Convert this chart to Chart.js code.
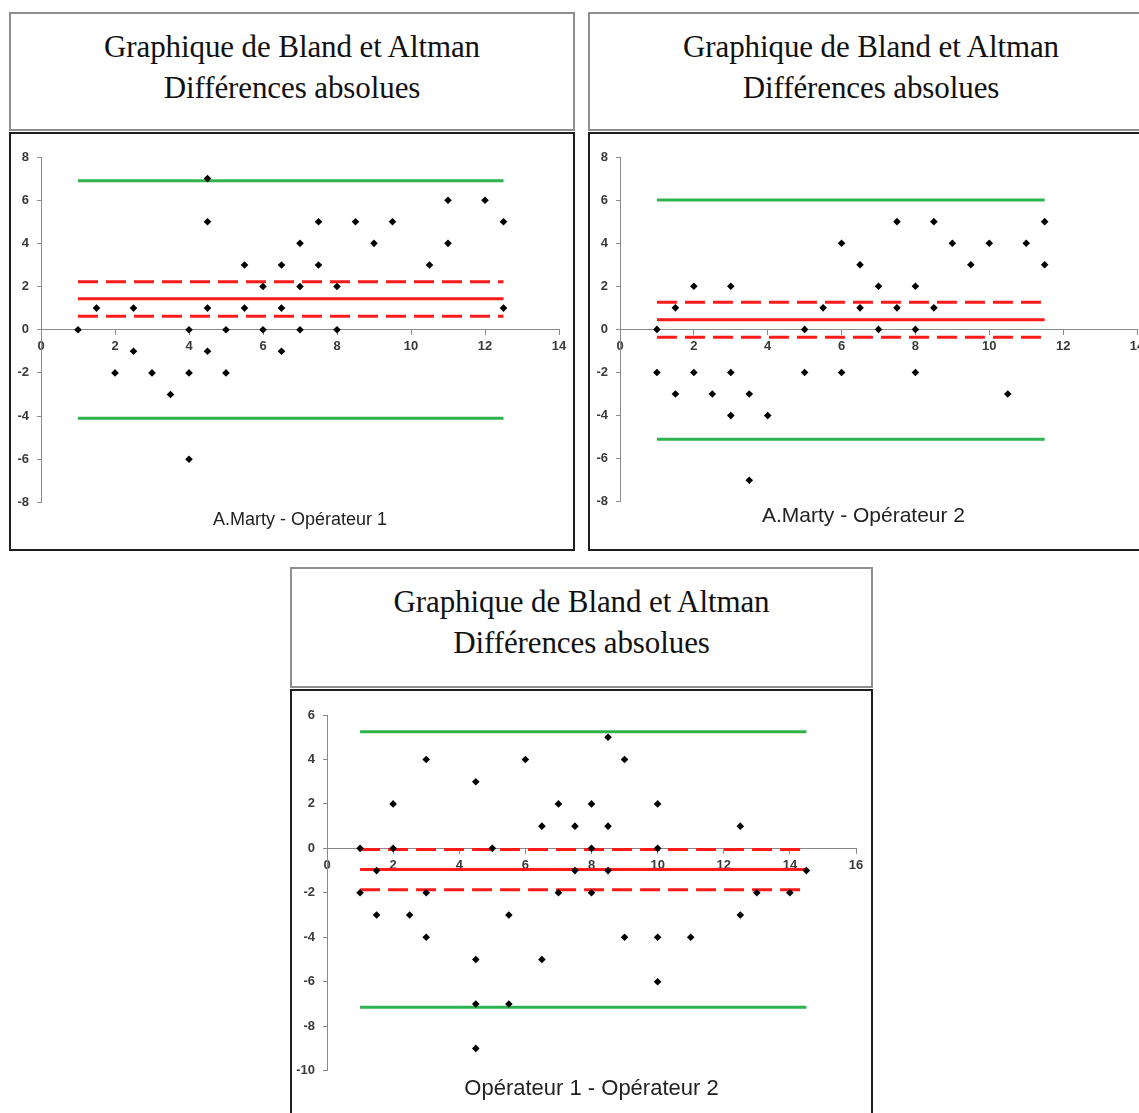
<!DOCTYPE html>
<html>
<head>
<meta charset="utf-8">
<script src="https://cdn.jsdelivr.net/npm/chart.js@4.4.1/dist/chart.umd.min.js"></script>
<style>
  html, body { margin:0; padding:0; background:#fff; overflow:hidden; width:1139px; height:1113px; }
  .tbox { position:absolute; box-sizing:border-box; border:2px solid #8e8e8e; background:#fff;
          text-align:center; font-family:"Liberation Serif", serif; font-size:31px; line-height:41px;
          color:#111; padding-top:12px; letter-spacing:-0.1px; }
  .cbox { position:absolute; box-sizing:border-box; border:2px solid #1e1e1e; background:#fff; overflow:hidden; }
  .cbox canvas { position:absolute; left:0; top:0; }
</style>
</head>
<body>
<div class="tbox" style="left:9px;top:12px;width:566px;height:119px;">Graphique de Bland et Altman<br>Différences absolues</div>
<div class="cbox" style="left:9px;top:132px;width:566px;height:419px;"><canvas id="c1" width="562" height="415"></canvas></div>

<div class="tbox" style="left:588px;top:12px;width:566px;height:119px;">Graphique de Bland et Altman<br>Différences absolues</div>
<div class="cbox" style="left:588px;top:132px;width:566px;height:419px;"><canvas id="c2" width="562" height="415"></canvas></div>

<div class="tbox" style="left:290px;top:567px;width:583px;height:121px;">Graphique de Bland et Altman<br>Différences absolues</div>
<div class="cbox" style="left:290px;top:689px;width:583px;height:440px;"><canvas id="c3" width="579" height="430"></canvas></div>

<script>
// ---- Chart 1 : A.Marty - Opérateur 1 ----
const op1X = [1,1.5,2,2.5,2.5,3,3.5,4,4,4,4.5,4.5,4.5,4.5,5,5,5.5,5.5,6,6,6.5,6.5,6.5,7,7,7,7.5,7.5,8,8,8.5,9,9.5,10.5,11,11,12,12.5,12.5];
const op1Y = [0,1,-2,1,-1,-2,-3,0,-2,-6,7,5,1,-1,0,-2,3,1,2,0,3,1,-1,4,2,0,5,3,2,0,5,4,5,3,6,4,6,5,1];
const op1Lines = [6.9, 2.22, 1.43, 0.62, -4.1];   // upper LoA, CI high, mean, CI low, lower LoA
const op1Span = [1, 12.5];

// ---- Chart 2 : A.Marty - Opérateur 2 ----
const op2X = [1,1,1.5,1.5,2,2,2.5,3,3,3,3.5,3.5,4,5,5,5.5,6,6,6.5,6.5,7,7,7.5,7.5,8,8,8,8.5,8.5,9,9.5,10,10.5,11,11.5,11.5];
const op2Y = [0,-2,1,-3,2,-2,-3,2,-2,-4,-3,-7,-4,0,-2,1,4,-2,3,1,2,0,5,1,2,0,-2,5,1,4,3,4,-3,4,5,3];
const op2Lines = [6.0, 1.26, 0.45, -0.36, -5.1];
const op2Span = [1, 11.5];

// ---- Chart 3 : Opérateur 1 - Opérateur 2 ----
const op12X = [1,1,1.5,1.5,2,2,2.5,3,3,3,4.5,4.5,4.5,4.5,5,5.5,5.5,6,6.5,6.5,7,7,7.5,7.5,8,8,8,8.5,8.5,8.5,9,9,10,10,10,10,11,12.5,12.5,13,14,14.5];
const op12Y = [0,-2,-1,-3,2,0,-3,4,-2,-4,3,-5,-7,-9,0,-3,-7,4,1,-5,2,-2,1,-1,2,0,-2,5,1,-1,4,-4,2,0,-4,-6,-4,1,-3,-2,-2,-1];
const op12Lines = [5.25, -0.05, -0.95, -1.86, -7.15];
const op12Span = [1, 14.5];

const labels = ["A.Marty - Opérateur 1", "A.Marty - Opérateur 2", "Opérateur 1 - Opérateur 2"];

const GREEN = "#2db24c", RED = "#ff1a1a";

function hline(y, span, color, dash, order) {
  return { type:"line", data:[{x:span[0], y:y},{x:span[1], y:y}], borderColor:color, borderWidth:3,
           borderDash:dash, pointRadius:0, showLine:true, fill:false, order:order };
}

function build(id, xs, ys, lines, span, cfg) {
  const pts = xs.map((x,i)=>({x:x, y:ys[i]}));
  const datasets = [
    { type:"scatter", data:pts, pointStyle:"rectRot", pointRadius:3.8, backgroundColor:"#000",
      borderColor:"#000", borderWidth:0, order:0 },
    hline(lines[0], span, GREEN, [], 1),
    hline(lines[1], span, RED, [20,8], 1),
    hline(lines[2], span, RED, [], 1),
    hline(lines[3], span, RED, [20,8], 1),
    hline(lines[4], span, GREEN, [], 1)
  ];
  const tickFont = { family:"Liberation Sans, Arial, sans-serif", size:13, weight:"bold" };
  new Chart(document.getElementById(id), {
    type:"scatter",
    data:{ datasets:datasets },
    options:{
      responsive:false, animation:false, devicePixelRatio:1,
      layout:{ padding:{ left:0, right:cfg.padR, top:cfg.padT, bottom:0 } },
      plugins:{
        legend:{ display:false }, tooltip:{ enabled:false },
        title:{ display:true, position:"bottom", fullSize:cfg.fullSize, text:cfg.label, color:"#222",
                font:{ family:"Liberation Sans, Arial, sans-serif", size:cfg.labelSize, weight:"normal" },
                padding:{ top:cfg.tPadT, bottom:cfg.tPadB } }
      },
      scales:{
        x:{ type:"linear", position:{ y:0 }, min:cfg.xMin, max:cfg.xMax,
            ticks:{ stepSize:2, color:"#3a3a3a", font:tickFont, padding:4, maxRotation:0 },
            grid:{ display:true, drawOnChartArea:false, drawTicks:true, tickLength:5, color:"#8a8a8a" },
            border:{ display:true, color:"#8a8a8a", width:1 } },
        y:{ type:"linear", position:"left", min:cfg.yMin, max:cfg.yMax,
            afterFit:(s)=>{ s.width = cfg.yW; },
            ticks:{ stepSize:2, color:"#3a3a3a", font:tickFont, padding:8 },
            grid:{ display:true, drawOnChartArea:false, drawTicks:true, tickLength:4, color:"#8a8a8a" },
            border:{ display:true, color:"#8a8a8a", width:1 } }
      }
    }
  });
}

build("c1", op1X, op1Y, op1Lines, op1Span,
  { label:labels[0], labelSize:18, fullSize:false, xMin:0, xMax:14, yMin:-8, yMax:8, yW:30, padR:14, padT:23, tPadT:7, tPadB:18 });
build("c2", op2X, op2Y, op2Lines, op2Span,
  { label:labels[1], labelSize:21, fullSize:true, xMin:0, xMax:14, yMin:-8, yMax:8, yW:30, padR:15, padT:23, tPadT:2, tPadB:20 });
build("c3", op12X, op12Y, op12Lines, op12Span,
  { label:labels[2], labelSize:22, fullSize:false, xMin:0, xMax:16, yMin:-10, yMax:6, yW:35, padR:15, padT:24, tPadT:5, tPadB:19 });
</script>
</body>
</html>
